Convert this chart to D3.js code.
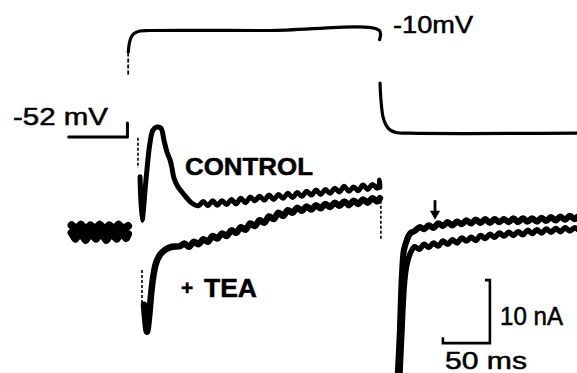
<!DOCTYPE html>
<html>
<head>
<meta charset="utf-8">
<script src="https://cdn.jsdelivr.net/npm/d3@7"></script>
<style>
  html, body { margin: 0; background: #fff; }
  svg { display: block; }
  text { font-family: "Liberation Sans", Arial, Helvetica, sans-serif; fill: #000; stroke: #000; stroke-width: 0.5; }
</style>
</head>
<body>
<svg id="fig" width="577" height="373"></svg>
<script>
// ---- Voltage command (time in ms, potential in mV) ----
const holdingV = [[-63, -52], [-0.6, -52], [-0.6, -46.5]];
const stepRiseDash = [[0.2, -27.4], [0.2, -19]];
const stepV = [[0.3, -18.5], [1.2, -15.5], [3.2, -12.8], [6.4, -11.2], [12.8, -10.2], [23, -10],
  [150, -10], [267.4, -10], [267.6, -13.6]];
const returnV = [[268.1, -30.7], [269.1, -37.4], [271.3, -44.1], [274.5, -47.3], [278.7, -49.2],
  [285.1, -50.2], [300, -50.5], [477.7, -50.5]];

// ---- Membrane current (time in ms, current in nA) ----
// holding current before the step, both records superimposed
const holdingIa = [[-60, 0.9], [-55, 0.3], [-50, 1.0], [-45, 0.2], [-40, 0.9], [-35, 0.3], [-30, 1.0],
  [-25, 0.2], [-20, 0.9], [-15, 0.3], [-10, 1.0], [-5, 0.3], [0, 0.8]];
const holdingIb = [[-60, -0.3], [-56, -1.2], [-51, -0.2], [-45, -1.4], [-40, -0.3], [-34, -1.2], [-29, -0.2],
  [-23, -1.4], [-18, -0.3], [-12, -1.2], [-7, -0.2], [-2, -1.1], [0, -0.5]];

const controlOnsetDash = [[10.6, 14.8], [10.6, 10.0]];
const controlI = [[12.8, 8.6], [14.9, 1.7], [19.1, 8.1], [23.4, 14.0], [26.6, 16.0], [30.9, 16.5],
  [35.1, 16.3], [38.3, 14.4], [41.5, 12.5], [44.7, 11.3], [46.8, 10.0], [48.9, 8.4], [53.2, 7.0],
  [58.5, 6.0], [62.8, 5.2], [68.1, 4.4],
  [75, 4.0], [80, 4.7], [85, 4.0], [90, 4.8], [95, 4.1], [100, 4.8], [105, 4.2], [110, 5.0],
  [115, 4.3], [120, 5.2], [125, 4.5], [130, 5.4], [135, 4.8], [140, 5.5], [145, 4.9], [150, 5.7],
  [155, 5.0], [160, 5.8], [165, 5.2], [170, 6.0], [175, 5.3], [180, 6.1], [185, 5.5], [190, 6.3],
  [195, 5.7], [200, 6.5], [205, 5.8], [210, 6.6], [215, 6.0], [220, 6.8], [225, 6.2], [230, 7.1],
  [235, 6.3], [240, 7.0], [245, 6.4], [250, 7.3], [255, 6.6], [260, 7.4], [265, 6.8], [267, 7.2],
  [267.6, 8.1], [268, 6.9]];

const teaOnsetDash = [[14.9, -6.2], [14.9, -11.4]];
const teaI = [[17.0, -11.7], [20.2, -16.0], [22.3, -13.8], [24.5, -10.2], [26.6, -7.5], [29.8, -5.1],
  [34.0, -3.8], [39.4, -3.0], [46.8, -2.5], [55.3, -2.4],
  [60, -2.0], [65, -2.5], [70, -1.7], [75, -2.1], [80, -1.3], [85, -1.7], [90, -0.8], [95, -1.2],
  [100, -0.4], [105, -0.8], [110, 0.1], [115, -0.3], [120, 0.6], [125, 0.2], [130, 1.2], [135, 0.8],
  [140, 1.7], [145, 1.3], [150, 2.3], [155, 1.9], [160, 2.9], [165, 2.4], [170, 3.3], [175, 2.9],
  [180, 3.7], [185, 3.2], [190, 3.9], [195, 3.4], [200, 4.1], [205, 3.6], [210, 4.3], [215, 3.8],
  [220, 4.5], [225, 4.0], [230, 4.7], [235, 4.1], [240, 4.8], [245, 4.3], [250, 5.0], [255, 4.5],
  [260, 5.2], [265, 4.7], [268, 5.2]];
const teaOffsetDash = [[269, 4.8], [269, -1.5]];

// tail currents after repolarisation
const tailUpper = [[286.2, -26], [287.2, -22.5], [289.4, -15.7], [290.4, -11], [291.5, -7.0],
  [293.6, -3.0], [296.8, -1.4], [300, -0.4], [305, 0.0], [310, 0.6], [315, 0.3], [320, 0.9],
  [325, 0.5], [330, 1.2], [335, 0.8], [340, 1.4], [345, 0.9], [350, 1.5], [355, 1.1], [360, 1.7],
  [365, 1.2], [370, 1.8], [375, 1.3], [380, 1.9], [385, 1.3], [390, 1.9], [395, 1.4], [400, 1.9],
  [405, 1.4], [410, 2.0], [415, 1.4], [420, 2.0], [425, 1.5], [430, 2.0], [435, 1.5], [440, 2.1],
  [445, 1.6], [450, 2.2], [455, 1.7], [460, 2.3], [465, 1.8], [470, 2.4], [475, 1.9], [478, 2.2]];
const tailLower = [[288.5, -26], [289.4, -22.5], [291.5, -15.7], [293.6, -9.4], [295.7, -6.2],
  [297.9, -4.6], [301.1, -3.3], [305, -2.5], [310, -2.9], [315, -2.1], [320, -2.6], [325, -1.9],
  [330, -2.4], [335, -1.6], [340, -2.1], [345, -1.4], [350, -1.9], [355, -1.1], [360, -1.6],
  [365, -1.0], [370, -1.5], [375, -0.7], [380, -1.2], [385, -0.5], [390, -1.0], [395, -0.3],
  [400, -0.8], [405, -0.2], [410, -0.7], [415, -0.1], [420, -0.6], [425, 0.1], [430, -0.4],
  [435, 0.2], [440, -0.3], [445, 0.3], [450, -0.2], [455, 0.4], [460, -0.1], [465, 0.5],
  [470, 0.0], [475, 0.5], [478, 0.3]];

// calibration bars and marker
const scaleBarTime = [335, 50];      // start (ms), length (ms)
const scaleBarCurrent = [-17.8, 10]; // start (nA), height (nA)
const arrowMark = [326.6, 4.9, 1.8]; // time (ms), tail and tip (nA)

// ---- Scales ----
const x = d3.scaleLinear().domain([0, 50]).range([128, 175]);
const yI = d3.scaleLinear().domain([0, 10]).range([231, 168]);
const yV = d3.scaleLinear().domain([-52, -10]).range([137, 30.5]);

const svg = d3.select("#fig");

const lineV = d3.line().x(d => x(d[0])).y(d => yV(d[1])).curve(d3.curveCatmullRom.alpha(0.5));
const lineVstraight = d3.line().x(d => x(d[0])).y(d => yV(d[1]));
const lineI = d3.line().x(d => x(d[0])).y(d => yI(d[1])).curve(d3.curveCatmullRom.alpha(0.5));
const lineIstraight = d3.line().x(d => x(d[0])).y(d => yI(d[1]));

function trace(gen, data, width, dash) {
  svg.append("path").attr("d", gen(data)).attr("fill", "none").attr("stroke", "#000")
    .attr("stroke-width", width).attr("stroke-linejoin", "round").attr("stroke-linecap", dash ? "butt" : "round")
    .attr("stroke-dasharray", dash || null);
}

// voltage trace
trace(lineVstraight, holdingV, 3);
trace(lineVstraight, stepRiseDash, 1.8, "4 2");
trace(lineV, stepV, 3.2);
trace(lineV, returnV, 3.2);

// current traces
trace(lineIstraight, holdingIa, 8);
trace(lineIstraight, holdingIb, 8);
trace(lineIstraight, controlOnsetDash, 1.6, "3 2");
trace(lineI, controlI, 5);
trace(lineIstraight, teaOnsetDash, 1.6, "3 2");
trace(lineI, teaI, 6.5);
trace(lineIstraight, teaOffsetDash, 1.6, "3 2");
trace(lineI, tailUpper, 6.2);
trace(lineI, tailLower, 5.5);

// calibration bars
const sbx0 = x(scaleBarTime[0]), sbx1 = x(scaleBarTime[0] + scaleBarTime[1]);
const sby0 = yI(scaleBarCurrent[0]), sby1 = yI(scaleBarCurrent[0] + scaleBarCurrent[1]);
svg.append("path")
  .attr("d", `M${sbx0},${sby0 - 6}V${sby0}H${sbx1}V${sby1}H${sbx1 - 5}`)
  .attr("fill", "none").attr("stroke", "#000").attr("stroke-width", 2.6);

// arrow marker over the tail currents
const ax = x(arrowMark[0]), ayTop = yI(arrowMark[1]), ayTip = yI(arrowMark[2]);
svg.append("line").attr("x1", ax).attr("x2", ax).attr("y1", ayTop).attr("y2", ayTip - 5)
  .attr("stroke", "#000").attr("stroke-width", 2.8);
svg.append("path").attr("d", `M${ax - 5},${ayTip - 9}L${ax + 5},${ayTip - 9}L${ax},${ayTip}Z`).attr("fill", "#000");

// labels
function label(txt, tx, ty, size, len, weight) {
  svg.append("text").attr("x", tx).attr("y", ty).attr("font-size", size)
    .attr("font-weight", weight || "normal")
    .attr("textLength", len).attr("lengthAdjust", "spacingAndGlyphs").text(txt);
}
label("-52 mV", 13, 125, 24, 95);
label("-10mV", 393, 33, 24, 80);
label("CONTROL", 185, 175, 24, 128, "bold");
label("10 nA", 500, 325, 25, 63);
label("50 ms", 445, 369, 23, 82);
const tea = svg.append("text").attr("x", 181).attr("y", 295).attr("font-weight", "bold");
tea.append("tspan").attr("font-size", 21).text("+");
tea.append("tspan").attr("font-size", 25).attr("x", 204).attr("dy", 2)
  .attr("textLength", 53).attr("lengthAdjust", "spacingAndGlyphs").text("TEA");
</script>
</body>
</html>
